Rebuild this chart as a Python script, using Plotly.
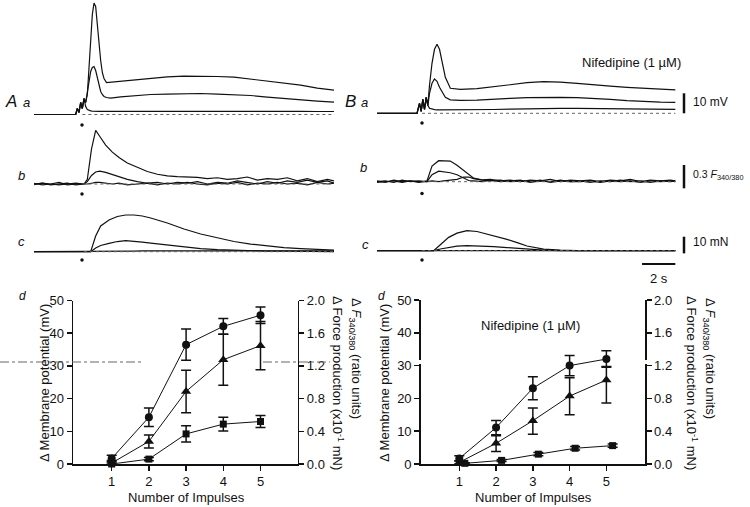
import plotly.graph_objects as go

W, H = 750, 507
FONT = "Arial, Liberation Sans, Helvetica, sans-serif"
INK = "#111111"


def px(x):
    return x / W


def py(y):
    return 1 - y / H


# ---------------- Top traces, panel A (control) ----------------
# row a: membrane potential (mV above rest), time in s from sweep start
tA_a = [0, 2.5, 2.6, 2.7, 2.8, 2.9, 3.0, 3.1, 3.2, 3.3, 3.4, 3.5, 3.6, 3.7, 3.8, 3.9, 4.0, 4.1, 4.2,
        4.35, 4.6, 5.2, 6, 7, 8, 9, 10, 11, 12, 13, 14, 15, 16, 17, 18]
A_a_big = [0, 0, 3, 1, 6, 3, 8, 6, 10, 25, 38, 50, 55.7, 54, 45, 35, 27, 21, 18, 16, 16.2, 16.7,
           17.2, 18.2, 18.8, 19.2, 19.2, 19.0, 18.7, 17.7, 16.7, 15.7, 14.7, 13.2, 12.2]
A_a_mid = [0, 0, 3, 1, 6, 3, 8, 6, 11, 17, 21.5, 23.5, 24, 22, 18, 14, 11.5, 10, 9, 8.5, 8.2, 8.8,
           9.4, 10, 10.2, 10.5, 10.5, 10.2, 10, 9.5, 8.7, 8, 7.2, 6.7, 6.2]
A_a_small = [0, 0, 3, 1, 6, 3, 8, 4, 2.5, 2, 1.8, 1.7, 1.6, 1.6, 1.6, 1.6, 1.6, 1.6, 1.6, 1.6, 1.6,
             1.7, 1.8, 1.8, 1.9, 1.9, 1.9, 1.9, 1.8, 1.8, 1.7, 1.7, 1.6, 1.5, 1.5]

# row b: F340/380 ratio change
tA_b = [0, 0.5, 1, 1.5, 2, 2.5, 3.0, 3.2, 3.45, 3.7, 3.95, 4.3, 4.7, 5.1, 5.6, 6.2, 6.8, 7.4, 8.0,
        8.6, 9.2, 9.8, 10.4, 11.0, 11.6, 12.2, 12.8, 13.4, 14.0, 14.6, 15.2, 15.8, 16.4, 17.0, 17.6, 18.0]
A_b_big = [0.01, -0.01, 0.0, 0.02, -0.01, 0.0, 0.0, 0.06, 0.45, 0.69, 0.61, 0.5, 0.41, 0.34, 0.27,
           0.21, 0.16, 0.125, 0.105, 0.095, 0.09, 0.085, 0.07, 0.08, 0.06, 0.07, 0.09, 0.05, 0.07,
           0.06, 0.08, 0.04, 0.07, 0.03, 0.06, 0.04]
A_b_mid = [0.0, 0.01, -0.01, 0.0, 0.01, -0.01, 0.0, 0.03, 0.11, 0.155, 0.165, 0.15, 0.12, 0.095,
           0.06, 0.03, 0.01, 0.02, 0.0, 0.02, 0.01, 0.03, 0.0, 0.02, 0.01, 0.04, 0.02, 0.0, 0.03,
           0.01, 0.04, 0.02, 0.05, 0.02, 0.04, 0.01]
A_b_small = [-0.01, 0.01, 0.0, -0.01, 0.0, 0.01, 0.0, 0.0, 0.01, 0.02, 0.02, 0.01, 0.0, 0.01, -0.01,
             0.0, 0.01, -0.01, 0.01, 0.0, 0.02, 0.0, -0.01, 0.01, 0.0, 0.02, -0.01, 0.01, 0.0, 0.02,
             0.0, 0.01, -0.01, 0.02, 0.0, 0.01]

# row c: force (mN)
tA_c = [0, 2.5, 3.4, 3.7, 4.0, 4.5, 5.0, 5.5, 6.0, 6.5, 7.0, 8, 9, 10, 11, 12, 13, 14, 15, 16, 17, 18]
A_c_big = [0, 0, 0, 9.4, 15.4, 19, 21.1, 22, 22, 21.4, 20.2, 17.2, 13.6, 10.6, 8.2, 6.1, 4.6, 3.4,
           2.5, 1.9, 1.3, 1.0]
A_c_mid = [0, 0, 0, 2.2, 3.7, 5.0, 6.1, 6.6, 6.4, 5.8, 5.2, 4.0, 2.8, 1.9, 1.2, 0.8, 0.6, 0.4, 0.3,
           0.2, 0.1, 0.1]
A_c_small = [0, 0, 0, 0, 0, 0.2, 0.3, 0.4, 0.4, 0.5, 0.5, 0.6, 0.7, 0.7, 0.7, 0.7, 0.7, 0.7, 0.6,
             0.6, 0.5, 0.5]

# ---------------- Top traces, panel B (nifedipine 1 uM) ----------------
tB_a = [0, 2.4, 2.55, 2.65, 2.75, 2.85, 2.95, 3.05, 3.15, 3.3, 3.45, 3.6, 3.75, 3.9, 4.1, 4.4, 5.0,
        6, 7, 8, 9, 10, 11, 12, 13, 14, 15, 16, 17, 17.9]
B_a_big = [0, 0, 5, 1, 7, 2, 8, 4, 14, 25, 32, 34.5, 32, 26, 18, 12.5, 12.0, 12.3, 13.3, 14.5, 15.3,
           15.8, 15.6, 15.0, 14.2, 13.6, 13.0, 12.5, 12.0, 11.7]
B_a_mid = [0, 0, 5, 1, 7, 2, 8, 4, 10, 15, 17.2, 16, 13, 10.5, 8, 6.7, 6.5, 6.6, 7.2, 7.5, 7.8, 8.0,
           8.0, 7.8, 7.5, 7.0, 6.3, 5.8, 5.6, 5.5]
B_a_small = [0, 0, 5, 1, 7, 2, 8, 4, 2.5, 2, 1.8, 1.7, 1.7, 1.6, 1.6, 1.6, 1.6, 1.7, 1.9, 2.1, 2.3,
             2.5, 2.5, 2.5, 2.4, 2.3, 2.2, 2.1, 2.0, 2.0]

tB_b = [0, 0.5, 1, 1.5, 2, 2.5, 3.0, 3.3, 3.7, 4.0, 4.4, 4.8, 5.2, 5.5, 5.8, 6.3, 6.8, 7.4, 8.0, 8.6,
        9.2, 9.8, 10.4, 11.0, 11.6, 12.2, 12.8, 13.4, 14.0, 14.6, 15.2, 15.8, 16.4, 17.0, 17.6, 17.9]
B_b_big = [0.01, -0.01, 0.02, 0.0, 0.01, -0.01, 0.01, 0.2, 0.27, 0.27, 0.265, 0.21, 0.14, 0.09,
           0.045, 0.025, 0.03, 0.01, 0.02, 0.0, 0.02, 0.01, 0.03, 0.0, 0.02, 0.01, 0.02, 0.0, 0.02,
           0.01, 0.03, 0.0, 0.02, 0.01, 0.02, 0.01]
B_b_mid = [0.0, 0.01, -0.01, 0.02, 0.0, 0.01, 0.0, 0.09, 0.135, 0.13, 0.115, 0.09, 0.045, 0.015,
           0.01, 0.0, 0.02, 0.0, 0.01, 0.02, -0.01, 0.01, 0.0, 0.02, 0.0, 0.01, -0.01, 0.01, 0.0,
           0.02, 0.0, 0.01, -0.01, 0.01, 0.0, 0.01]
B_b_small = [-0.01, 0.0, 0.01, -0.01, 0.01, 0.0, 0.0, 0.01, 0.0, 0.01, 0.02, 0.03, 0.06, 0.06, 0.04,
             0.02, 0.01, 0.02, 0.0, 0.01, 0.0, 0.02, -0.01, 0.01, 0.0, 0.0, 0.01, -0.01, 0.01, 0.0,
             0.01, -0.01, 0.01, 0.0, 0.01, 0.0]

tB_c = [0, 2.5, 3.4, 3.8, 4.3, 4.8, 5.4, 6.0, 6.5, 7.0, 7.8, 8.5, 9.0, 10.0, 11.0, 12, 14, 16, 17.9]
B_c_big = [0, 0, 0, 3.6, 8.0, 10.5, 12.0, 11.5, 10.2, 8.9, 6.8, 4.5, 2.8, 1.0, 0.3, 0.1, 0, 0, 0]
B_c_mid = [0, 0, 0, 1.0, 2.0, 2.7, 3.0, 2.9, 2.7, 2.4, 1.9, 1.3, 0.9, 0.3, 0.1, 0, 0, 0, 0]
B_c_small = [0, 0, 0, 0.2, 0.3, 0.4, 0.4, 0.4, 0.3, 0.3, 0.2, 0.2, 0.1, 0.1, 0, 0, 0, 0, 0]

# stimulus markers (time, s) and the offset below baseline at which the dot sits
stim_t_A = 2.88
stim_t_B = 2.7
stim_dot_A = [-5.25, -0.128, -4.98]   # rows a, b, c
stim_dot_B = [-4.85, -0.152, -5.58]

# ---------------- Summary plots (d) ----------------
impulses = [1, 2, 3, 4, 5]
ticks_mv = [0, 10, 20, 30, 40, 50]
ticks_right = [0.0, 0.4, 0.8, 1.2, 1.6, 2.0]

# control (left), values on the mV scale of the left axis
ctl_circ = [1.7, 14.3, 36.5, 42.1, 45.5]
ctl_circ_err = [1.0, 2.8, 4.8, 2.4, 2.5]
ctl_tri = [0.3, 6.9, 22.2, 31.9, 36.2]
ctl_tri_err = [0.8, 2.0, 6.5, 7.8, 7.4]
ctl_sq = [0.0, 1.5, 9.2, 12.2, 13.0]
ctl_sq_err = [0.3, 0.5, 2.5, 2.1, 1.8]

# nifedipine (right)
nif_circ = [1.7, 11.1, 23.1, 30.0, 32.0]
nif_circ_err = [0.8, 2.2, 3.5, 3.1, 2.5]
nif_tri = [0.5, 6.3, 13.2, 20.7, 25.6]
nif_tri_err_up = [0.5, 2.3, 3.9, 5.6, 4.1]
nif_tri_err_dn = [0.5, 2.5, 4.1, 5.7, 7.0]
nif_sq_x = [1.15, 2.15, 3.15, 4.15, 5.17]
nif_sq = [0.2, 1.1, 3.0, 4.8, 5.6]
nif_sq_err = [0.2, 0.3, 0.5, 0.5, 0.5]

fig = go.Figure()

line_style = dict(color=INK, width=1.2)


def add_traces(t, series, xa, ya):
    for s in series:
        fig.add_trace(go.Scatter(x=t, y=s, mode="lines", line=line_style,
                                 xaxis=xa, yaxis=ya, hoverinfo="skip", showlegend=False))


add_traces(tA_a, [A_a_small, A_a_mid, A_a_big], "x", "y")
add_traces(tA_b, [A_b_small, A_b_mid, A_b_big], "x", "y2")
add_traces(tA_c, [A_c_small, A_c_mid, A_c_big], "x", "y3")
add_traces(tB_a, [B_a_small, B_a_mid, B_a_big], "x2", "y4")
add_traces(tB_b, [B_b_small, B_b_mid, B_b_big], "x2", "y5")
add_traces(tB_c, [B_c_small, B_c_mid, B_c_big], "x2", "y6")

for ya, v in zip(["y", "y2", "y3"], stim_dot_A):
    fig.add_trace(go.Scatter(x=[stim_t_A], y=[v], mode="markers",
                             marker=dict(color=INK, size=3.5), xaxis="x", yaxis=ya,
                             showlegend=False, hoverinfo="skip"))
for ya, v in zip(["y4", "y5", "y6"], stim_dot_B):
    fig.add_trace(go.Scatter(x=[stim_t_B], y=[v], mode="markers",
                             marker=dict(color=INK, size=3.5), xaxis="x2", yaxis=ya,
                             showlegend=False, hoverinfo="skip"))


def add_series(x, y, sym, size, err_up, err_dn, xa, ya):
    fig.add_trace(go.Scatter(
        x=x, y=y, mode="lines+markers",
        line=dict(color=INK, width=1),
        marker=dict(symbol=sym, size=size, color=INK),
        error_y=dict(type="data", array=err_up, arrayminus=err_dn, symmetric=False,
                     color=INK, thickness=1.5, width=5),
        xaxis=xa, yaxis=ya, showlegend=False, hoverinfo="skip", cliponaxis=False))


add_series(impulses, ctl_sq, "square", 7, ctl_sq_err, ctl_sq_err, "x3", "y7")
add_series(impulses, ctl_tri, "triangle-up", 9, ctl_tri_err, ctl_tri_err, "x3", "y7")
add_series(impulses, ctl_circ, "circle", 8, ctl_circ_err, ctl_circ_err, "x3", "y7")
add_series(nif_sq_x, nif_sq, "square", 7, nif_sq_err, nif_sq_err, "x4", "y9")
add_series(impulses, nif_tri, "triangle-up", 9, nif_tri_err_up, nif_tri_err_dn, "x4", "y9")
add_series(impulses, nif_circ, "circle", 8, nif_circ_err, nif_circ_err, "x4", "y9")
# anchors for the right-hand axes
fig.add_trace(go.Scatter(x=[None], y=[None], xaxis="x3", yaxis="y8", showlegend=False))
fig.add_trace(go.Scatter(x=[None], y=[None], xaxis="x4", yaxis="y10", showlegend=False))

hidden = dict(visible=False, showgrid=False, zeroline=False, fixedrange=True, automargin=False)

tickfont = dict(family=FONT, size=13, color=INK)
ax_common = dict(showline=True, linecolor=INK, linewidth=1.5, ticks="outside", ticklen=5,
                 tickwidth=1.5, tickcolor=INK, showgrid=False, zeroline=False, tickfont=tickfont,
                 automargin=False)

layout = dict(
    width=W, height=H, autosize=False,
    margin=dict(l=0, r=0, t=0, b=0, pad=0, autoexpand=False),
    paper_bgcolor="white", plot_bgcolor="rgba(0,0,0,0)", showlegend=False,
    font=dict(family=FONT, color=INK),
    xaxis=dict(hidden, domain=[px(34), px(334)], range=[0, 18], anchor="y"),
    xaxis2=dict(hidden, domain=[px(377), px(677)], range=[0, 18], anchor="y4"),
    yaxis=dict(hidden, domain=[py(130), py(0)], range=[-7.75, 57.25], anchor="x"),
    yaxis2=dict(hidden, domain=[py(200), py(128)], range=[-0.2057, 0.7198], anchor="x"),
    yaxis3=dict(hidden, domain=[py(272), py(200)], range=[-12.18, 31.01], anchor="x"),
    yaxis4=dict(hidden, domain=[py(130), py(0)], range=[-8.35, 56.65], anchor="x2"),
    yaxis5=dict(hidden, domain=[py(200), py(128)], range=[-0.2352, 0.6902], anchor="x2"),
    yaxis6=dict(hidden, domain=[py(272), py(200)], range=[-12.78, 30.41], anchor="x2"),
    xaxis3=dict(ax_common, domain=[px(73), px(297.7)], range=[-0.04, 6.0],
                tickvals=impulses, anchor="y7"),
    yaxis7=dict(ax_common, domain=[py(464), py(300.5)], range=[0, 50], tickvals=ticks_mv,
                anchor="x3"),
    yaxis8=dict(ax_common, domain=[py(464), py(300.5)], range=[0, 2.0], tickvals=ticks_right,
                tickformat=".1f", overlaying="y7", side="right", anchor="x3"),
    xaxis4=dict(ax_common, domain=[px(420.7), px(645)], range=[-0.05, 6.05],
                tickvals=impulses, anchor="y9"),
    yaxis9=dict(ax_common, domain=[py(464), py(300)], range=[0, 50], tickvals=ticks_mv,
                anchor="x4"),
    yaxis10=dict(ax_common, domain=[py(464), py(300)], range=[0, 2.0], tickvals=ticks_right,
                 tickformat=".1f", overlaying="y9", side="right", anchor="x4"),
)
fig.update_layout(**layout)

shapes = []
# dotted baselines in the traces
for xa, ya, t0, t1 in [("x", "y", 2.9, 18), ("x", "y2", 2.9, 18), ("x", "y3", 3.0, 18),
                       ("x2", "y4", 2.7, 17.9), ("x2", "y5", 2.7, 17.9), ("x2", "y6", 2.7, 17.9)]:
    shapes.append(dict(type="line", xref=xa, yref=ya, x0=t0, x1=t1, y0=0, y1=0,
                       line=dict(color="#666", width=1, dash="dot")))
# calibration bars
bar_x = px(684)
shapes.append(dict(type="line", xref="paper", yref="y4", x0=bar_x, x1=bar_x, y0=0, y1=10,
                   line=dict(color=INK, width=2.5)))
shapes.append(dict(type="line", xref="paper", yref="y5", x0=bar_x, x1=bar_x, y0=-0.085, y1=0.215,
                   line=dict(color=INK, width=2.5)))
shapes.append(dict(type="line", xref="paper", yref="y6", x0=bar_x, x1=bar_x, y0=-1.6, y1=8.4,
                   line=dict(color=INK, width=2.5)))
shapes.append(dict(type="line", xref="x2", yref="y6", x0=15.9, x1=17.9, y0=-8.0, y1=-8.0,
                   line=dict(color=INK, width=2)))
# scan cut line across the left summary plot
shapes.append(dict(type="line", xref="paper", yref="paper", x0=0, x1=px(143), y0=py(362),
                   y1=py(362), line=dict(color="#666", width=1, dash="dashdot")))
shapes.append(dict(type="line", xref="paper", yref="paper", x0=px(263), x1=px(330), y0=py(362),
                   y1=py(362), line=dict(color="#666", width=1, dash="dashdot")))
# small breaks in the right summary plot axes
for xc in (420.7, 645):
    shapes.append(dict(type="rect", xref="paper", yref="paper", x0=px(xc - 4), x1=px(xc + 4),
                       y0=py(364), y1=py(360), fillcolor="white", line=dict(width=0), layer="above"))
fig.update_layout(shapes=shapes)


def ann(x, y, text, size=13, italic=False, angle=0, xanchor="center"):
    if italic:
        text = "<i>" + text + "</i>"
    return dict(x=px(x), y=py(y), xref="paper", yref="paper", text=text, showarrow=False,
                textangle=angle, xanchor=xanchor, yanchor="middle",
                font=dict(family=FONT, size=size, color=INK))


annotations = [
    ann(11, 101, "A", 17, True), ann(26, 102, "a", 13, True),
    ann(350, 101, "B", 17, True), ann(364, 102, "a", 13, True),
    ann(21, 175, "b", 13, True), ann(363, 167, "b", 13, True),
    ann(21, 241, "c", 13, True), ann(365, 244, "c", 13, True),
    ann(631, 63, "Nifedipine (1 µM)", 13),
    ann(691, 102, "10 mV", 12, xanchor="left"),
    ann(691, 175, "0.3 <i>F</i><sub>340/380</sub>", 10.5, xanchor="left"),
    ann(691, 242, "10 mN", 12, xanchor="left"),
    ann(659, 278, "2 s", 13),
    ann(22, 296, "d", 12, True), ann(381, 296, "d", 12, True),
    ann(44, 383, "Δ Membrane potential (mV)", 13, angle=-90),
    ann(338, 383, "Δ Force production (x10<sup>-1</sup> mN)", 13, angle=90),
    ann(356, 358, "Δ <i>F</i><sub>340/380</sub> (ratio units)", 13, angle=90),
    ann(186, 497, "Number of Impulses", 13),
    ann(384, 383, "Δ Membrane potential (mV)", 13, angle=-90),
    ann(692, 383, "Δ Force production (x10<sup>-1</sup> mN)", 13, angle=90),
    ann(710, 358, "Δ <i>F</i><sub>340/380</sub> (ratio units)", 13, angle=90),
    ann(533, 497, "Number of Impulses", 13),
    ann(530, 325, "Nifedipine (1 µM)", 13),
]
fig.update_layout(annotations=annotations)

fig.write_html(
    "out.html",
    config={"displayModeBar": False, "staticPlot": True},
    post_script="document.body.style.margin='0';document.body.style.overflow='hidden';",
)
